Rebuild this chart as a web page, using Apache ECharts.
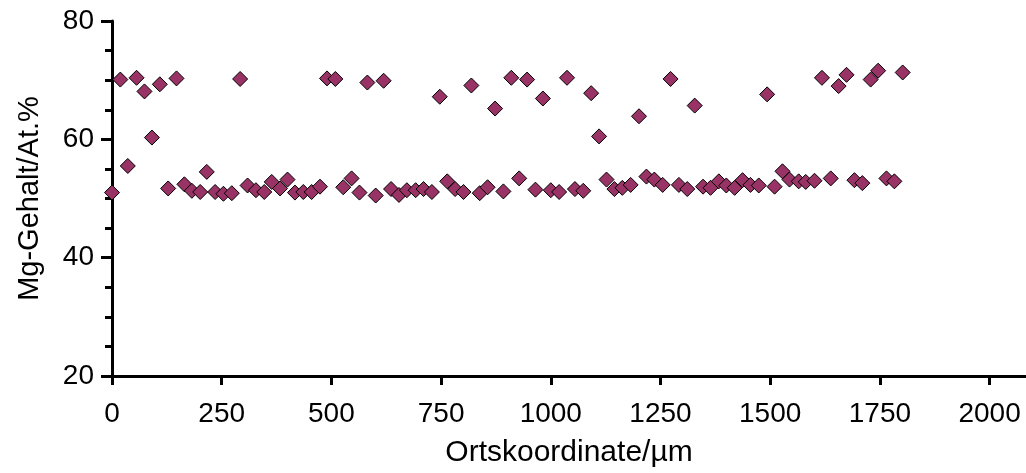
<!DOCTYPE html>
<html>
<head>
<meta charset="utf-8">
<script src="https://cdn.jsdelivr.net/npm/echarts@6/dist/echarts.min.js"></script>
<style>
html,body{margin:0;padding:0;background:#fff;}
#chart{width:1026px;height:473px;}
</style>
</head>
<body>
<div id="chart"></div>
<script>
// Data
const xValues = [0,19,36,56,74,91,109,128,147,165,182,201,216,235,254,273,292,309,328,347,364,383,400,417,436,455,474,490,509,527,546,564,582,601,619,636,654,672,692,710,729,747,764,782,801,819,838,856,873,892,910,928,946,965,982,1000,1019,1037,1055,1074,1092,1110,1127,1145,1163,1182,1201,1218,1236,1255,1273,1292,1311,1328,1347,1364,1383,1400,1419,1437,1455,1474,1493,1510,1528,1544,1565,1581,1601,1618,1638,1656,1674,1692,1710,1729,1746,1765,1783,1802];
const yValues = [51.0,70.1,55.5,70.4,68.1,60.3,69.3,51.7,70.3,52.4,51.3,51.1,54.5,51.1,50.8,50.9,70.2,52.2,51.4,51.1,52.8,51.7,53.2,51.0,51.1,51.1,52.0,70.3,70.2,51.9,53.4,51.0,69.6,50.5,69.9,51.6,50.6,51.4,51.4,51.6,51.1,67.2,52.9,51.6,51.1,69.1,50.9,51.9,65.2,51.2,70.4,53.4,70.1,51.5,66.9,51.4,51.1,70.4,51.6,51.3,67.8,60.5,53.2,51.6,51.8,52.3,63.9,53.7,53.2,52.3,70.2,52.3,51.6,65.7,52.0,51.8,52.9,52.2,51.8,53.1,52.3,52.2,67.6,52.0,54.6,53.2,52.9,52.8,53.0,70.4,53.4,69.0,70.9,53.1,52.6,70.1,71.6,53.4,52.9,71.3];
const xTicks = [0,250,500,750,1000,1250,1500,1750,2000];
const yTicks = [20,40,60,80];
const xTitle = 'Ortskoordinate/µm';
const yTitle = 'Mg-Gehalt/At.%';

const points = xValues.map((x, i) => [x, yValues[i]]);
const font = 'Liberation Sans, Arial, Helvetica, sans-serif';

const chart = echarts.init(document.getElementById('chart'));
chart.setOption({
  animation: false,
  backgroundColor: '#ffffff',
  grid: {left: 112, right: -2, top: 21, bottom: 95},
  xAxis: {
    type: 'value',
    min: 0, max: 2083,
    name: xTitle,
    nameLocation: 'middle',
    nameGap: 62,
    nameTextStyle: {fontFamily: font, fontSize: 30, color: '#000'},
    splitLine: {show: false},
    axisLine: {show: true, onZero: false, lineStyle: {color: '#000', width: 3}},
    axisTick: {show: true, length: 9, lineStyle: {color: '#000', width: 3}, customValues: xTicks},
    axisLabel: {fontFamily: font, fontSize: 28, color: '#000', margin: 24, customValues: xTicks,
      formatter: v => String(v)}
  },
  yAxis: {
    type: 'value',
    min: 20, max: 80, interval: 20,
    name: yTitle,
    nameLocation: 'middle',
    nameGap: 68,
    nameTextStyle: {fontFamily: font, fontSize: 29, color: '#000'},
    splitLine: {show: false},
    axisLine: {show: true, onZero: false, lineStyle: {color: '#000', width: 3}},
    axisTick: {show: true, length: 11, lineStyle: {color: '#000', width: 3}, customValues: yTicks},
    minorTick: {show: true, splitNumber: 4, length: 7, lineStyle: {color: '#000', width: 3}},
    axisLabel: {fontFamily: font, fontSize: 28, color: '#000', margin: 18, customValues: yTicks,
      formatter: v => String(v)}
  },
  series: [{
    type: 'scatter',
    data: points,
    symbol: 'diamond',
    symbolSize: 15,
    clip: false,
    itemStyle: {color: '#993366', borderColor: '#000', borderWidth: 1, opacity: 1}
  }]
});
</script>
</body>
</html>
